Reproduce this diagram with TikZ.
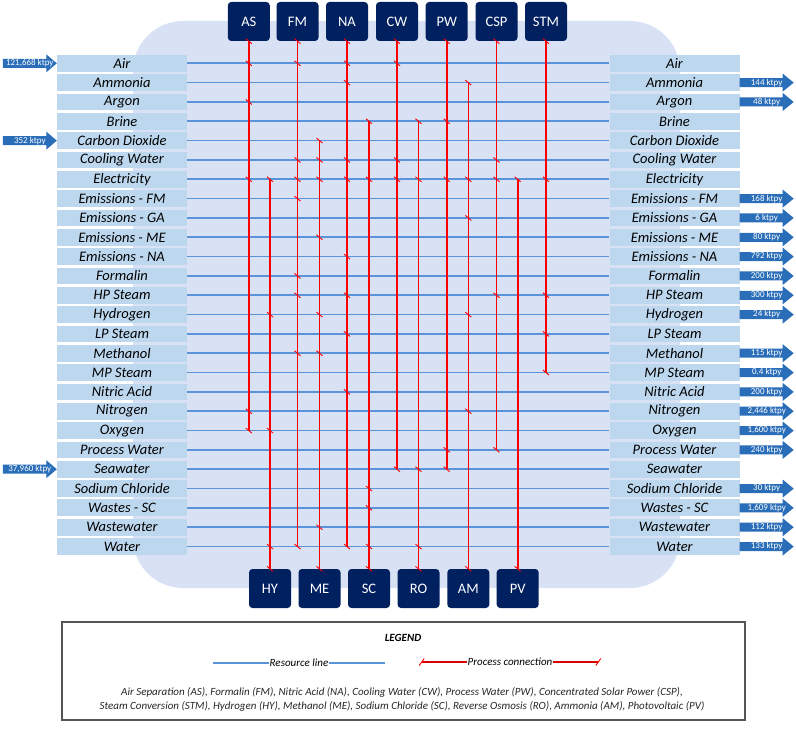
\documentclass[tikz,border=0pt]{standalone}
\usepackage{fontspec}
\setmainfont{Carlito}
\definecolor{colBlob}{HTML}{D9E1F4}
\definecolor{colRow}{HTML}{BDD7EE}
\definecolor{colRes}{HTML}{5B93D8}
\definecolor{colNavy}{HTML}{002060}
\definecolor{colFlow}{HTML}{2A6DB8}
\definecolor{colConn}{HTML}{FF0000}
\definecolor{colFrame}{HTML}{555555}
\begin{document}
\begin{tikzpicture}[x=1pt,y=-1pt,
  rowlbl/.style={fill=colRow, minimum width=130pt, minimum height=16.8pt, inner sep=0pt, text=black, font=\fontsize{14.5}{14.5}\selectfont\itshape},
  proc/.style={fill=colNavy, text=white, rounded corners=3.5pt, minimum width=42pt, minimum height=39pt, inner sep=0pt, font=\fontsize{14.5}{14.5}\selectfont},
  resln/.style={draw=colRes, line width=1.6pt},
  connln/.style={draw=colConn, line width=1.6pt},
  tickmark/.style={draw=colConn, line width=0.9pt},
  flowtxt/.style={text=white, inner sep=0pt, font=\fontsize{9}{9}\selectfont},
  legtxt/.style={inner sep=0.6pt, font=\fontsize{11}{11}\selectfont\itshape}
]
\useasboundingbox (0,0) rectangle (796,730);
% background region
\fill[colBlob, rounded corners=50pt] (133,21) rectangle (680,588);

% resource rows
\foreach \n [count=\i] in {Air, Ammonia, Argon, Brine, Carbon Dioxide, Cooling Water, Electricity, Emissions - FM, Emissions - GA, Emissions - ME, Emissions - NA, Formalin, HP Steam, Hydrogen, LP Steam, Methanol, MP Steam, Nitric Acid, Nitrogen, Oxygen, Process Water, Seawater, Sodium Chloride, Wastes - SC, Wastewater, Water} {
  \pgfmathsetmacro\yy{63.3+19.33*(\i-1)}
  \node[rowlbl] (l\i) at (122,\yy) {\n};
  \node[rowlbl] (r\i) at (674.5,\yy) {\n};
}
\foreach \i in {1,...,26} \draw[resln] (l\i.east) -- (r\i.west);

% process boxes
\node[proc] (AS)  at (248.8,21.5) {AS};
\node[proc] (FM)  at (297.5,21.5) {FM};
\node[proc] (NA)  at (347,21.5) {NA};
\node[proc] (CW)  at (397,21.5) {CW};
\node[proc] (PW)  at (446.7,21.5) {PW};
\node[proc] (CSP) at (496.5,21.5) {CSP};
\node[proc] (STM) at (546,21.5) {STM};
\node[proc] (HY)  at (270,588.5) {HY};
\node[proc] (ME)  at (319.5,588.5) {ME};
\node[proc] (SC)  at (369,588.5) {SC};
\node[proc] (RO)  at (418.5,588.5) {RO};
\node[proc] (AM)  at (468.3,588.5) {AM};
\node[proc] (PV)  at (517.7,588.5) {PV};

% top processes: line from box down to last connected resource
\foreach \p/\rows/\last in {AS/{1,3,7,19,20}/20, FM/{1,6,7,8,12,13,16,26}/26, NA/{1,2,6,7,11,13,15,18,26}/26, CW/{1,6,7,22}/22, PW/{4,7,21,22}/22, CSP/{6,7,13,21}/21, STM/{7,13,15,17}/17} {
  \draw[connln] (\p.south) -- (\p.south |- l\last.center);
  \draw[tickmark] (\p.south) +(-3,-2.5) -- +(3,2.5);
  \foreach \r in \rows {
    \draw[tickmark] (\p.south |- l\r.center) +(-3,-2.5) -- +(3,2.5);
  }
}
% bottom processes: line from first connected resource down to box
\foreach \p/\rows/\first in {HY/{7,14,20,26}/7, ME/{5,6,7,10,14,16,25}/5, SC/{4,7,23,24,26}/4, RO/{4,7,22,26}/4, AM/{2,7,9,14,19}/2, PV/{7}/7} {
  \draw[connln] (\p.north |- l\first.center) -- (\p.north);
  \draw[tickmark] (\p.north) +(-3,-2.5) -- +(3,2.5);
  \foreach \r in \rows {
    \draw[tickmark] (\p.north |- l\r.center) +(-3,-2.5) -- +(3,2.5);
  }
}

% input arrows
\foreach \i/\t in {1/{121,668 ktpy}, 5/{352 ktpy}, 22/{37,960 ktpy}} {
  \fill[colFlow] (l\i.west) -- ++(-10.5,-9) -- ++(0,4.5) -- ++(-43.5,0) -- ++(0,9) -- ++(43.5,0) -- ++(0,4.5) -- cycle;
  \path (l\i.west) ++(-27,0) node[flowtxt] (in\i) {\t};
}
% output arrows
\foreach \i/\t in {2/{144 ktpy}, 3/{48 ktpy}, 8/{168 ktpy}, 9/{6 ktpy}, 10/{80 ktpy}, 11/{792 ktpy}, 12/{200 ktpy}, 13/{300 ktpy}, 14/{24 ktpy}, 16/{115 ktpy}, 17/{0.4 ktpy}, 18/{200 ktpy}, 19/{2,446 ktpy}, 20/{1,600 ktpy}, 21/{240 ktpy}, 23/{30 ktpy}, 24/{1,609 ktpy}, 25/{112 ktpy}, 26/{133 ktpy}} {
  \fill[colFlow] (r\i.east) ++(0,-4.5) -- ++(43,0) -- ++(0,-4.5) -- ++(11,9) -- ++(-11,9) -- ++(0,-4.5) -- ++(-43,0) -- cycle;
  \path (r\i.east) ++(27,0) node[flowtxt] (out\i) {\t};
}

% legend
\node[draw=colFrame, line width=1.2pt, minimum width=683pt, minimum height=98pt, inner sep=0pt] (legend) at (403.5,671) {};
\node[inner sep=0pt, font=\fontsize{11}{11}\selectfont\bfseries\itshape] (legtitle) at (403,638) {LEGEND};
\coordinate (rs1) at (213,663);
\coordinate (rs2) at (385,663);
\node[legtxt] (rtxt) at (299,663) {Resource line};
\draw[color=colRes, line width=1.1pt] (rs1) -- (rtxt.west);
\draw[color=colRes, line width=1.1pt] (rtxt.east) -- (rs2);
\coordinate (pc1) at (421.7,662);
\coordinate (pc2) at (598.3,662);
\node[legtxt] (ptxt) at (510,662) {Process connection};
\draw[color=colConn!85!black, line width=1.1pt] (pc1) -- (ptxt.west);
\draw[color=colConn!85!black, line width=1.1pt] (ptxt.east) -- (pc2);
\draw[tickmark] (pc1) +(-2.5,3.5) -- +(2.5,-3.5);
\draw[tickmark] (pc2) +(-2.5,3.5) -- +(2.5,-3.5);
\node[legtxt, align=center, text=black!85, font=\fontsize{11}{14.5}\selectfont\itshape] (abbr) at (402,699.5) {Air Separation (AS), Formalin (FM), Nitric Acid (NA), Cooling Water (CW), Process Water (PW), Concentrated Solar Power (CSP),\\ Steam Conversion (STM), Hydrogen (HY), Methanol (ME), Sodium Chloride (SC), Reverse Osmosis (RO), Ammonia (AM), Photovoltaic (PV)};
\end{tikzpicture}
\end{document}
